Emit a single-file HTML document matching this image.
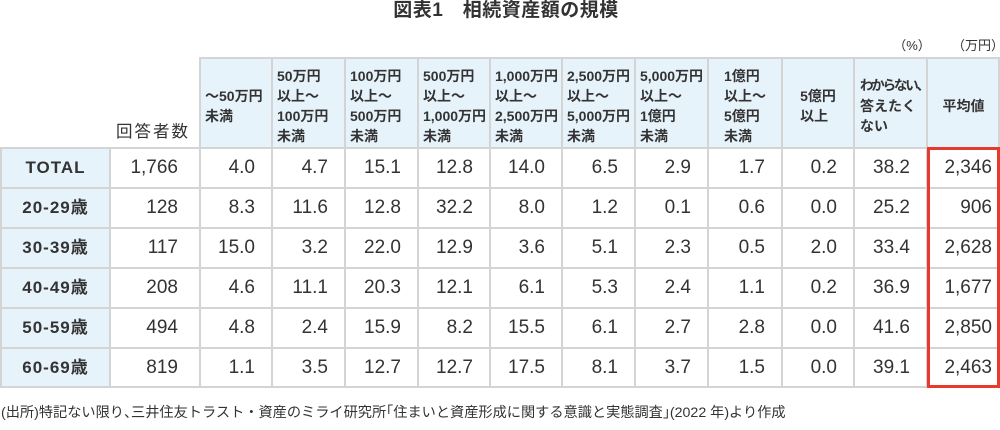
<!DOCTYPE html>
<html><head><meta charset="utf-8">
<style>
html,body{margin:0;padding:0;background:#fff;}
body{width:1000px;height:430px;position:relative;overflow:hidden;font-family:"Liberation Sans","Noto Sans CJK JP",sans-serif;color:#333;}
.abs{position:absolute;}
.title{left:6px;top:0;width:1000px;text-align:center;font-size:19px;font-weight:bold;line-height:21px;letter-spacing:0.5px;color:#333;}
.unit{font-size:13px;line-height:20px;text-align:center;color:#333;}
.hd{position:absolute;top:58px;height:90px;padding-top:5px;display:flex;align-items:center;background:#e7f3fb;font-size:14px;font-weight:bold;line-height:20px;white-space:nowrap;color:#333;box-sizing:border-box;}
.hd.lf{padding-left:5px;}
.hd.ct{justify-content:center;}
.r{position:absolute;left:0;height:40px;display:flex;}
.r>div{height:40px;line-height:40px;text-align:right;padding-right:17px;box-sizing:border-box;font-size:19px;color:#333;white-space:nowrap;}
.r>div:nth-child(1){width:110px;text-align:center;padding:0;background:#e7f3fb;font-weight:bold;font-size:17px;letter-spacing:1px;text-indent:1px;}
.r>div:nth-child(2){width:90px;padding-right:22px;}
.r>div:nth-child(3){width:72px;}
.r>div:nth-child(4){width:73px;}
.r>div:nth-child(5){width:73px;}
.r>div:nth-child(6){width:72px;}
.r>div:nth-child(7){width:72px;}
.r>div:nth-child(8){width:73px;}
.r>div:nth-child(9){width:73px;}
.r>div:nth-child(10){width:74px;}
.r>div:nth-child(11){width:72px;}
.r>div:nth-child(12){width:73px;}
.r>div:nth-child(13){width:73px;padding-right:8px;}
.v{position:absolute;width:2px;background:#d4d4d4;}
.h{position:absolute;height:2px;background:#d4d4d4;}
.red{position:absolute;left:927px;top:147px;width:73px;height:241px;border:3px solid #e8392f;box-sizing:border-box;}
.foot{left:1px;top:403px;font-size:14.2px;line-height:20px;white-space:nowrap;color:#333;}
.np{letter-spacing:-0.5em;}
.nl{margin-left:-0.5em;}
</style></head>
<body>
<div class="abs title">図表1　相続資産額の規模</div>
<div class="abs unit" style="left:892px;top:36px;width:40px;">（%）</div>
<div class="abs unit" style="left:950px;top:36px;width:56px;">（万円）</div>

<div class="abs" style="left:116px;top:121px;font-size:16.5px;line-height:22px;letter-spacing:2px;color:#333;">回答者数</div>

<div class="hd lf" style="left:200px;width:72px;"><div>～50万円<br>未満</div></div>
<div class="hd lf" style="left:272px;width:73px;"><div>50万円<br>以上～<br>100万円<br>未満</div></div>
<div class="hd lf" style="left:345px;width:73px;"><div>100万円<br>以上～<br>500万円<br>未満</div></div>
<div class="hd lf" style="left:418px;width:72px;"><div>500万円<br>以上～<br>1,000万円<br>未満</div></div>
<div class="hd lf" style="left:490px;width:72px;"><div>1,000万円<br>以上～<br>2,500万円<br>未満</div></div>
<div class="hd lf" style="left:562px;width:73px;"><div>2,500万円<br>以上～<br>5,000万円<br>未満</div></div>
<div class="hd lf" style="left:635px;width:73px;"><div>5,000万円<br>以上～<br>1億円<br>未満</div></div>
<div class="hd ct" style="left:708px;width:74px;"><div>1億円<br>以上～<br>5億円<br>未満</div></div>
<div class="hd ct" style="left:782px;width:72px;"><div>5億円<br>以上</div></div>
<div class="hd lf" style="left:854px;width:73px;padding-left:6px;"><div><span style="font-size:13.5px;letter-spacing:-2.2px;">わからない、</span><br>答えたく<br>ない</div></div>
<div class="hd ct" style="left:927px;width:73px;"><div>平均値</div></div>

<div class="r" style="top:148px;"><div>TOTAL</div><div>1,766</div><div>4.0</div><div>4.7</div><div>15.1</div><div>12.8</div><div>14.0</div><div>6.5</div><div>2.9</div><div>1.7</div><div>0.2</div><div>38.2</div><div>2,346</div></div>
<div class="r" style="top:188px;"><div>20-29歳</div><div>128</div><div>8.3</div><div>11.6</div><div>12.8</div><div>32.2</div><div>8.0</div><div>1.2</div><div>0.1</div><div>0.6</div><div>0.0</div><div>25.2</div><div>906</div></div>
<div class="r" style="top:228px;"><div>30-39歳</div><div>117</div><div>15.0</div><div>3.2</div><div>22.0</div><div>12.9</div><div>3.6</div><div>5.1</div><div>2.3</div><div>0.5</div><div>2.0</div><div>33.4</div><div>2,628</div></div>
<div class="r" style="top:268px;"><div>40-49歳</div><div>208</div><div>4.6</div><div>11.1</div><div>20.3</div><div>12.1</div><div>6.1</div><div>5.3</div><div>2.4</div><div>1.1</div><div>0.2</div><div>36.9</div><div>1,677</div></div>
<div class="r" style="top:308px;"><div>50-59歳</div><div>494</div><div>4.8</div><div>2.4</div><div>15.9</div><div>8.2</div><div>15.5</div><div>6.1</div><div>2.7</div><div>2.8</div><div>0.0</div><div>41.6</div><div>2,850</div></div>
<div class="r" style="top:348px;"><div>60-69歳</div><div>819</div><div>1.1</div><div>3.5</div><div>12.7</div><div>12.7</div><div>17.5</div><div>8.1</div><div>3.7</div><div>1.5</div><div>0.0</div><div>39.1</div><div>2,463</div></div>

<!-- horizontal lines -->
<div class="h" style="left:199px;top:57px;width:801px;"></div>
<div class="h" style="left:0;top:147px;width:1000px;"></div>
<div class="h" style="left:0;top:187px;width:1000px;"></div>
<div class="h" style="left:0;top:227px;width:1000px;"></div>
<div class="h" style="left:0;top:267px;width:1000px;"></div>
<div class="h" style="left:0;top:307px;width:1000px;"></div>
<div class="h" style="left:0;top:347px;width:1000px;"></div>
<div class="h" style="left:0;top:386px;width:1000px;"></div>
<!-- vertical lines -->
<div class="v" style="left:0;top:147px;height:241px;"></div>
<div class="v" style="left:109px;top:147px;height:241px;"></div>
<div class="v" style="left:199px;top:57px;height:331px;"></div>
<div class="v" style="left:271px;top:57px;height:331px;"></div>
<div class="v" style="left:344px;top:57px;height:331px;"></div>
<div class="v" style="left:417px;top:57px;height:331px;"></div>
<div class="v" style="left:489px;top:57px;height:331px;"></div>
<div class="v" style="left:561px;top:57px;height:331px;"></div>
<div class="v" style="left:634px;top:57px;height:331px;"></div>
<div class="v" style="left:707px;top:57px;height:331px;"></div>
<div class="v" style="left:781px;top:57px;height:331px;"></div>
<div class="v" style="left:853px;top:57px;height:331px;"></div>
<div class="v" style="left:926px;top:57px;height:331px;"></div>
<div class="v" style="left:998px;top:57px;height:331px;"></div>

<div class="red"></div>

<div class="abs foot">(出所)特記ない限り<span class="np">、</span>三井住友トラスト・資産のミライ研究所<span class="nl">「</span>住まいと資産形成に関する意識と実態調査<span class="np">」</span>(2022 年)より作成</div>
</body></html>
